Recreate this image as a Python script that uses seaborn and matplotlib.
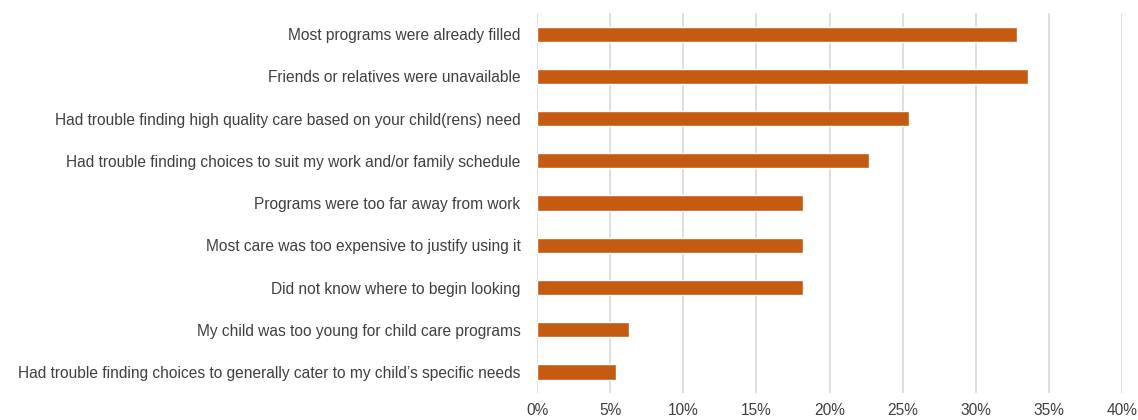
import numpy as np
import pandas as pd
import seaborn as sns
import matplotlib.pyplot as plt
from matplotlib.ticker import PercentFormatter

reasons = [
    'Most programs were already filled',
    'Friends or relatives were unavailable',
    'Had trouble finding high quality care based on your child(rens) need',
    'Had trouble finding choices to suit my work and/or family schedule',
    'Programs were too far away from work',
    'Most care was too expensive to justify using it',
    'Did not know where to begin looking',
    'My child was too young for child care programs',
    'Had trouble finding choices to generally cater to my child\u2019s specific needs',
]
shares = [32.8, 33.6, 25.4, 22.7, 18.2, 18.2, 18.2, 6.3, 5.4]

df = pd.DataFrame({'reason': reasons, 'share': shares})

sns.set_style('white')
plt.rcParams['font.family'] = ['Liberation Sans', 'DejaVu Sans']

fig, ax = plt.subplots(figsize=(11.38, 4.2), dpi=100)
fig.subplots_adjust(left=0.472, right=0.986, top=0.969, bottom=0.064)

sns.barplot(ax=ax, data=df, y='reason', x='share', color='#C55A11',
            width=0.36, saturation=1, orient='h')

ax.set_xlim(0, 40)
ax.set_xticks(np.arange(0, 41, 5))
ax.xaxis.set_major_formatter(PercentFormatter(decimals=0))
ax.grid(axis='x', color='#D9D9D9', linewidth=1.2)
ax.set_axisbelow(True)
for s in ax.spines.values():
    s.set_visible(False)
ax.set_xlabel('')
ax.set_ylabel('')
ax.tick_params(axis='both', length=0, labelsize=11.2, colors='#404040')
ax.tick_params(axis='x', pad=7)
ax.tick_params(axis='y', pad=12)

plt.savefig('out.png', dpi=100)
